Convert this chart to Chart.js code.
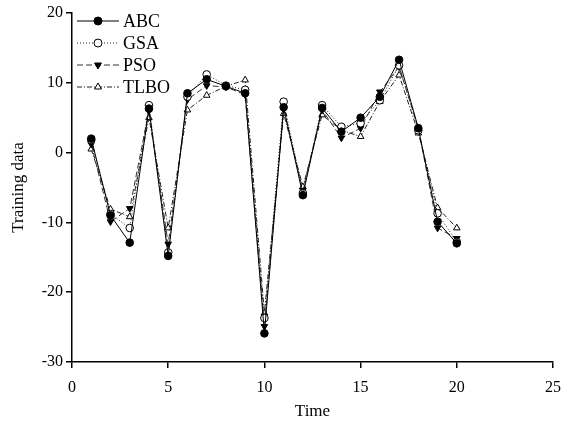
<!DOCTYPE html>
<html>
<head>
<meta charset="utf-8">
<script src="https://cdn.jsdelivr.net/npm/chart.js@4"></script>
<style>
  html, body { margin: 0; padding: 0; background: #fff; }
  #wrap { width: 567px; height: 421px; }
</style>
</head>
<body>
<div id="wrap"><canvas id="c" width="567" height="421"></canvas></div>
<script>
// data
const times = [1, 2, 3, 4, 5, 6, 7, 8, 9, 10, 11, 12, 13, 14, 15, 16, 17, 18, 19, 20];
const abc  = [2, -9, -12.9, 6.3, -14.8, 8.5, 10.5, 9.5, 8.5, -25.9, 6.5, -6.1, 6.4, 3, 5, 8, 13.3, 3.5, -9.9, -13];
const gsa  = [1.8, -8.8, -10.8, 6.8, -14.3, 8, 11.2, 9.6, 9, -23.7, 7.3, -5.8, 6.8, 3.7, 4.2, 7.5, 12.5, 3.2, -8.7, -12.8];
const pso  = [1.2, -9.9, -8, 6, -13.1, 7.6, 9.6, 9.4, 8.3, -24.9, 6.3, -5.4, 6.1, 2.1, 3.5, 8.7, 12.3, 3.5, -10.8, -12.3];
const tlbo = [0.5, -8.1, -9.2, 5, -10.8, 6.1, 8.2, 9.5, 10.4, -23, 5.6, -4.9, 5.4, 3.2, 2.3, 7.3, 11.1, 2.8, -7.9, -10.8];
const xTicks = [0, 5, 10, 15, 20, 25];
const yTicks = [-30, -20, -10, 0, 10, 20];

const serif = "'Liberation Serif', 'DejaVu Serif', serif";

function pts(vals) { return vals.map((v, i) => ({ x: times[i], y: v })); }

const series = [
  { label: 'ABC',  data: abc,  style: 'circle',   rot: 0,   fill: '#000', dash: [],     lineColor: '#000' },
  { label: 'GSA',  data: gsa,  style: 'circle',   rot: 0,   fill: '#fff', dash: [1, 2], lineColor: '#222' },
  { label: 'PSO',  data: pso,  style: 'triangle', rot: 180, fill: '#000', dash: [6, 3], lineColor: '#333' },
  { label: 'TLBO', data: tlbo, style: 'triangle', rot: 0,   fill: '#fff', dash: [5, 2, 1, 2], lineColor: '#222' }
];

// legend drawn inside the plot, line + marker + text
const innerLegend = {
  id: 'innerLegend',
  afterDraw(chart) {
    const ctx = chart.ctx;
    const rows = [21, 43, 65, 87];
    series.forEach((s, i) => {
      const y = rows[i];
      ctx.save();
      ctx.strokeStyle = s.lineColor;
      ctx.lineWidth = 1;
      ctx.setLineDash(s.dash);
      ctx.beginPath();
      ctx.moveTo(77, y);
      ctx.lineTo(119, y);
      ctx.stroke();
      ctx.setLineDash([]);
      ctx.fillStyle = s.fill;
      ctx.strokeStyle = '#000';
      Chart.helpers.drawPoint(ctx, { pointStyle: s.style, rotation: s.rot, radius: 4, borderWidth: 1 }, 98, y);
      ctx.fillStyle = '#000';
      ctx.font = '18px ' + serif;
      ctx.textBaseline = 'middle';
      ctx.fillText(s.label, 123, y + 1);
      ctx.restore();
    });
  }
};

new Chart(document.getElementById('c'), {
  type: 'line',
  data: {
    datasets: series.map(s => ({
      label: s.label,
      data: pts(s.data),
      borderColor: s.lineColor,
      borderWidth: 1,
      borderDash: s.dash,
      pointStyle: s.style,
      rotation: s.rot,
      pointRadius: 3.8,
      pointBackgroundColor: s.fill,
      pointBorderColor: '#000',
      pointBorderWidth: 1,
      tension: 0
    }))
  },
  options: {
    responsive: false,
    animation: false,
    layout: { padding: { top: 13, right: 14, left: 0, bottom: 0 } },
    plugins: { legend: { display: false }, tooltip: { enabled: false } },
    scales: {
      x: {
        type: 'linear',
        min: 0, max: 25,
        afterBuildTicks: a => { a.ticks = xTicks.map(v => ({ value: v })); },
        afterFit: a => { a.height = 59; a.paddingLeft = 0; a.paddingRight = 0; },
        grid: { drawOnChartArea: false, tickLength: 6, color: '#000', lineWidth: 1.5 },
        border: { color: '#000', width: 1.5 },
        ticks: { color: '#000', font: { family: serif, size: 16 }, padding: 10, maxRotation: 0 },
        title: { display: true, text: 'Time', color: '#000', font: { family: serif, size: 17 }, padding: { top: 2, bottom: -1 } }
      },
      y: {
        min: -30, max: 20,
        afterBuildTicks: a => { a.ticks = yTicks.map(v => ({ value: v })); },
        afterFit: a => { a.width = 72; },
        grid: { drawOnChartArea: false, tickLength: 6, color: '#000', lineWidth: 1.5 },
        border: { color: '#000', width: 1.5 },
        ticks: { color: '#000', font: { family: serif, size: 16 }, padding: 3 },
        title: { display: true, text: 'Training data', color: '#000', font: { family: serif, size: 17 }, padding: { top: 8, bottom: 0 } }
      }
    }
  },
  plugins: [innerLegend]
});
</script>
</body>
</html>
